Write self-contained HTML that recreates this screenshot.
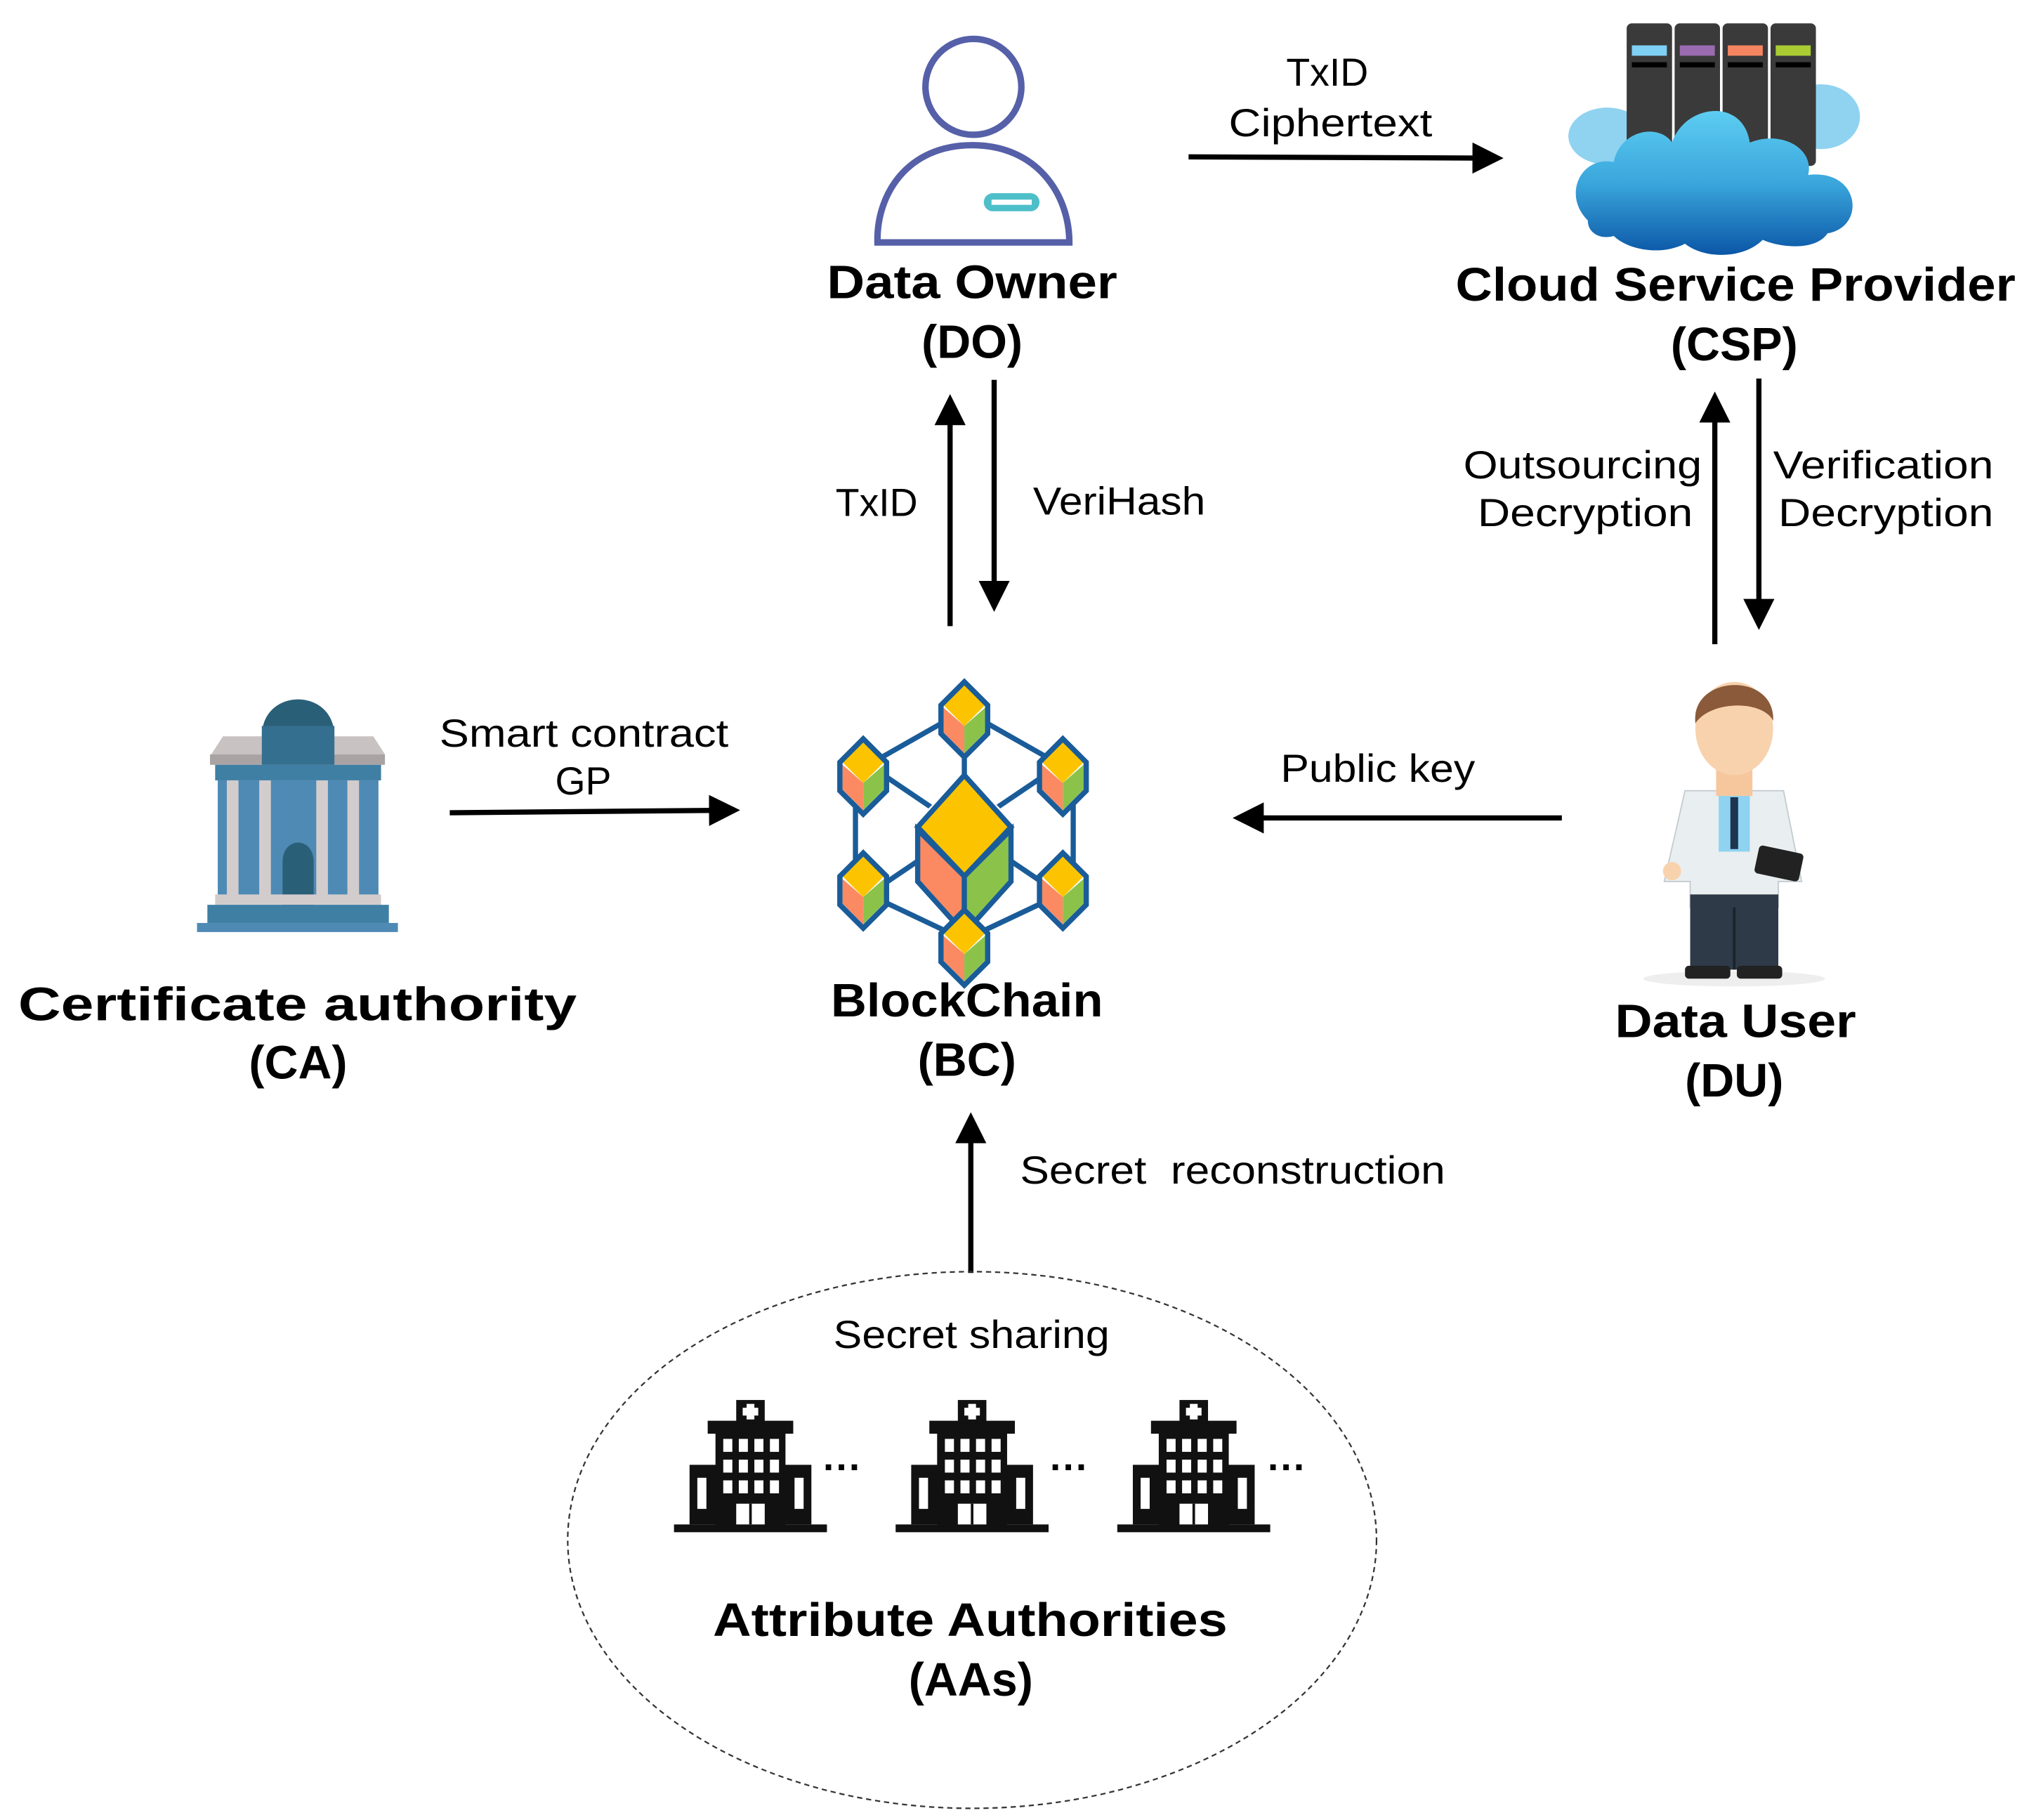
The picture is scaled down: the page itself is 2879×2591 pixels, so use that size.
<!DOCTYPE html>
<html><head><meta charset="utf-8"><style>
html,body{margin:0;padding:0;background:#fff;}
svg{display:block;}
text{font-family:"Liberation Sans","DejaVu Sans",sans-serif;fill:#000;}
.b{font-weight:bold;font-size:36px;}
.n{font-size:30px;}
</style></head><body>
<svg width="2879" height="2591" viewBox="0 0 1560 1404" preserveAspectRatio="none" xmlns="http://www.w3.org/2000/svg">
<defs>
<marker id="ah" markerWidth="6" markerHeight="6" refX="5" refY="3" orient="auto" markerUnits="strokeWidth">
<path d="M0,0 L6,3 L0,6 z" fill="#000"/></marker>
<linearGradient id="cl" x1="0" y1="0" x2="0" y2="1"><stop offset="0" stop-color="#5dcdf2"/><stop offset="0.5" stop-color="#3aa6dc"/><stop offset="1" stop-color="#0b56a6"/></linearGradient>
<g id="hosp">
<rect x="0" y="96" width="118" height="6" fill="#111"/>
<rect x="12" y="50" width="30" height="46" fill="#111"/>
<rect x="76" y="50" width="30" height="46" fill="#111"/>
<rect x="32" y="22" width="54" height="76" fill="#111"/>
<rect x="26" y="16" width="66" height="10" fill="#111"/>
<rect x="48" y="0" width="22" height="18" fill="#111"/>
<rect x="56" y="3" width="6" height="12" fill="#fff"/><rect x="53" y="6" width="12" height="6" fill="#fff"/>
<g fill="#fff">
<rect x="38" y="30" width="7" height="10"/><rect x="50" y="30" width="7" height="10"/><rect x="62" y="30" width="7" height="10"/><rect x="74" y="30" width="7" height="10"/>
<rect x="38" y="46" width="7" height="10"/><rect x="50" y="46" width="7" height="10"/><rect x="62" y="46" width="7" height="10"/><rect x="74" y="46" width="7" height="10"/>
<rect x="38" y="62" width="7" height="10"/><rect x="50" y="62" width="7" height="10"/><rect x="62" y="62" width="7" height="10"/><rect x="74" y="62" width="7" height="10"/>
<rect x="18" y="60" width="7" height="24"/><rect x="93" y="60" width="7" height="24"/>
<rect x="48" y="80" width="22" height="16"/>
</g>
<rect x="58" y="80" width="2" height="16" fill="#111"/>
</g>
<g id="cube">
<path d="M0,-22 L18,-4 L18,18 L0,36 L-18,18 L-18,-4 Z" fill="#fff" stroke="#1a5c99" stroke-width="4"/>
<path d="M0,-20 L16,-4 L0,12 L-16,-4 Z" fill="#fcc400"/>
<path d="M-16,-2 L0,12 L0,33 L-16,17 Z" fill="#fb8a62"/>
<path d="M16,-2 L0,12 L0,33 L16,17 Z" fill="#8bc34a"/>
<path d="M0,-22 L18,-4 L18,18 L0,36 L-18,18 L-18,-4 Z" fill="none" stroke="#1a5c99" stroke-width="4"/>
</g>
</defs>

<ellipse cx="751" cy="67" rx="37" ry="37" fill="none" stroke="#5560a8" stroke-width="5"/>
<path d="M677,187 C676,150 700,112 750,112 C800,112 825,150 825,187 Z" fill="none" stroke="#5560a8" stroke-width="5"/>
<rect x="759" y="149" width="43" height="14" rx="7" fill="#4dbfc9"/>
<rect x="765" y="154" width="31" height="4" fill="#fff"/>
<text class="b" x="638" y="230" textLength="224" lengthAdjust="spacingAndGlyphs">Data Owner</text>
<text class="b" x="750" y="276" text-anchor="middle">(DO)</text>

<text class="n" x="1024" y="66" text-anchor="middle">TxID</text>
<text class="n" x="948" y="105" textLength="157" lengthAdjust="spacingAndGlyphs">Ciphertext</text>
<line x1="917" y1="121" x2="1156" y2="122" stroke="#000" stroke-width="4" marker-end="url(#ah)"/>

<g>
<ellipse cx="1240" cy="105" rx="30" ry="22" fill="#8fd3f0"/>
<ellipse cx="1405" cy="90" rx="30" ry="25" fill="#8fd3f0"/>
<rect x="1255" y="18" width="35" height="110" rx="4" fill="#3a3a3a"/>
<rect x="1292" y="18" width="35" height="110" rx="4" fill="#3a3a3a"/>
<rect x="1329" y="18" width="35" height="110" rx="4" fill="#3a3a3a"/>
<rect x="1366" y="18" width="35" height="110" rx="4" fill="#3a3a3a"/>
<rect x="1259" y="35" width="27" height="8" fill="#7fd0f5"/><rect x="1296" y="35" width="27" height="8" fill="#9b6bb0"/>
<rect x="1333" y="35" width="27" height="8" fill="#f58560"/><rect x="1370" y="35" width="27" height="8" fill="#aacc33"/>
<g fill="#000"><rect x="1259" y="48" width="27" height="4"/><rect x="1296" y="48" width="27" height="4"/><rect x="1333" y="48" width="27" height="4"/><rect x="1370" y="48" width="27" height="4"/></g>
<path d="M1225,170 C1205,150 1220,120 1245,125 C1250,100 1280,95 1290,110 C1300,80 1345,75 1350,110 C1375,100 1400,115 1395,135 C1435,130 1440,175 1410,180 C1400,195 1370,190 1360,185 C1345,200 1315,200 1300,188 C1280,198 1255,192 1245,182 C1235,185 1225,180 1225,170 Z" fill="url(#cl)"/>
</g>
<text class="b" x="1123" y="232" textLength="432" lengthAdjust="spacingAndGlyphs">Cloud Service Provider</text>
<text class="b" x="1338" y="278" text-anchor="middle">(CSP)</text>

<line x1="733" y1="483" x2="733" y2="308" stroke="#000" stroke-width="4" marker-end="url(#ah)"/>
<line x1="767" y1="293" x2="767" y2="468" stroke="#000" stroke-width="4" marker-end="url(#ah)"/>
<text class="n" x="708" y="398" text-anchor="end">TxID</text>
<text class="n" x="797" y="397" textLength="133" lengthAdjust="spacingAndGlyphs">VeriHash</text>

<line x1="1323" y1="497" x2="1323" y2="306" stroke="#000" stroke-width="4" marker-end="url(#ah)"/>
<line x1="1357" y1="292" x2="1357" y2="482" stroke="#000" stroke-width="4" marker-end="url(#ah)"/>
<text class="n" x="1129" y="369" textLength="184" lengthAdjust="spacingAndGlyphs">Outsourcing</text>
<text class="n" x="1140" y="406" textLength="166" lengthAdjust="spacingAndGlyphs">Decryption</text>
<text class="n" x="1368" y="369" textLength="170" lengthAdjust="spacingAndGlyphs">Verification</text>
<text class="n" x="1372" y="406" textLength="166" lengthAdjust="spacingAndGlyphs">Decryption</text>

<g>
<path d="M202,568 C202,530 258,530 258,568 Z" fill="#2a5f78"/>
<path d="M172,568 L288,568 L297,582 L163,582 Z" fill="#c8c2c2"/>
<rect x="162" y="582" width="135" height="8" fill="#a9a3a3"/>
<rect x="202" y="560" width="56" height="30" fill="#356f8f"/>
<rect x="166" y="590" width="128" height="12" fill="#3f7fa3"/>
<rect x="168" y="602" width="124" height="90" fill="#4f8ab5"/>
<g fill="#d3cccc"><rect x="175" y="602" width="9" height="90"/><rect x="200" y="602" width="9" height="90"/><rect x="244" y="602" width="9" height="90"/><rect x="268" y="602" width="9" height="90"/></g>
<path d="M218,700 L218,665 C218,645 242,645 242,665 L242,700 Z" fill="#2a5f78"/>
<rect x="166" y="690" width="128" height="8" fill="#d3cccc"/>
<rect x="160" y="698" width="140" height="14" fill="#3f7fa3"/>
<rect x="152" y="712" width="155" height="7" fill="#4f8ab5"/>
</g>
<text class="b" x="14" y="787" textLength="431" lengthAdjust="spacingAndGlyphs">Certificate authority</text>
<text class="b" x="230" y="832" text-anchor="middle">(CA)</text>

<text class="n" x="339" y="576" textLength="223" lengthAdjust="spacingAndGlyphs">Smart contract</text>
<text class="n" x="450" y="613" text-anchor="middle">GP</text>
<line x1="347" y1="627" x2="567" y2="625" stroke="#000" stroke-width="4" marker-end="url(#ah)"/>

<g stroke="#1a5c99" stroke-width="4" fill="none">
<line x1="744" y1="548" x2="670" y2="590"/><line x1="744" y1="548" x2="818" y2="590"/>
<line x1="744" y1="548" x2="744" y2="630"/>
<line x1="660" y1="600" x2="660" y2="680"/><line x1="828" y1="600" x2="828" y2="680"/>
<line x1="670" y1="590" x2="744" y2="640"/><line x1="818" y1="590" x2="744" y2="640"/>
<line x1="670" y1="690" x2="744" y2="640"/><line x1="818" y1="690" x2="744" y2="640"/>
<line x1="744" y1="690" x2="744" y2="725"/>
<line x1="670" y1="690" x2="744" y2="725"/><line x1="818" y1="690" x2="744" y2="725"/>
</g>
<g transform="translate(744,640) scale(2)">
<path d="M0,-22 L18,-4 L18,18 L0,36 L-18,18 L-18,-4 Z" fill="#fff"/>
</g>
<path d="M744,598 L780,638 L744,676 L708,638 Z" fill="#fcc400" stroke="#1a5c99" stroke-width="4"/>
<path d="M708,640 L744,676 L744,720 L708,680 Z" fill="#fb8a62" stroke="#1a5c99" stroke-width="4"/>
<path d="M780,640 L744,676 L744,720 L780,680 Z" fill="#8bc34a" stroke="#1a5c99" stroke-width="4"/>
<use href="#cube" x="744" y="548"/>
<use href="#cube" x="666" y="592"/>
<use href="#cube" x="820" y="592"/>
<use href="#cube" x="666" y="680"/>
<use href="#cube" x="820" y="680"/>
<use href="#cube" x="744" y="724"/>
<text class="b" x="641" y="784" textLength="210" lengthAdjust="spacingAndGlyphs">BlockChain</text>
<text class="b" x="746" y="830" text-anchor="middle">(BC)</text>

<text class="n" x="988" y="603" textLength="150" lengthAdjust="spacingAndGlyphs">Public key</text>
<line x1="1205" y1="631" x2="955" y2="631" stroke="#000" stroke-width="4" marker-end="url(#ah)"/>

<g>
<ellipse cx="1338" cy="755" rx="70" ry="6" fill="#eee"/>
<path d="M1300,610 L1376,610 L1390,680 L1372,680 L1372,700 L1304,700 L1304,680 L1284,680 Z" fill="#e9eef0" stroke="#c5ccd0"/>
<rect x="1326" y="612" width="24" height="45" fill="#8fd3f0"/>
<rect x="1335" y="615" width="6" height="40" fill="#1d3550"/>
<rect x="1304" y="690" width="68" height="58" fill="#2f3a48"/>
<rect x="1337" y="700" width="2" height="48" fill="#1a222c"/>
<rect x="1300" y="745" width="35" height="10" rx="3" fill="#222"/>
<rect x="1340" y="745" width="35" height="10" rx="3" fill="#222"/>
<rect x="1324" y="594" width="28" height="20" fill="#f6c79c"/>
<ellipse cx="1338" cy="562" rx="30" ry="36" fill="#f8d2ad"/>
<path d="M1308,558 C1304,520 1370,518 1368,556 C1360,540 1320,540 1308,558 Z" fill="#8a5a3a"/>
<circle cx="1290" cy="672" r="7" fill="#f8d2ad"/>
<rect x="1355" y="655" width="35" height="22" rx="3" fill="#222" transform="rotate(12 1372 666)"/>
</g>
<text class="b" x="1246" y="800" textLength="186" lengthAdjust="spacingAndGlyphs">Data User</text>
<text class="b" x="1338" y="846" text-anchor="middle">(DU)</text>

<line x1="749" y1="982" x2="749" y2="862" stroke="#000" stroke-width="4" marker-end="url(#ah)"/>
<text class="n" x="787" y="913" xml:space="preserve" textLength="328" lengthAdjust="spacingAndGlyphs">Secret  reconstruction</text>

<ellipse cx="750" cy="1188" rx="312" ry="207" fill="none" stroke="#333" stroke-width="1.2" stroke-dasharray="4,3"/>
<text class="n" x="643" y="1040" textLength="213" lengthAdjust="spacingAndGlyphs">Secret sharing</text>
<use href="#hosp" x="520" y="1080"/>
<use href="#hosp" x="691" y="1080"/>
<use href="#hosp" x="862" y="1080"/>
<text class="n" x="650" y="1142" text-anchor="middle" font-weight="bold">···</text>
<text class="n" x="825" y="1142" text-anchor="middle" font-weight="bold">···</text>
<text class="n" x="993" y="1142" text-anchor="middle" font-weight="bold">···</text>
<text class="b" x="550" y="1262" textLength="397" lengthAdjust="spacingAndGlyphs">Attribute Authorities</text>
<text class="b" x="749" y="1308" text-anchor="middle">(AAs)</text>
</svg>
</body></html>
